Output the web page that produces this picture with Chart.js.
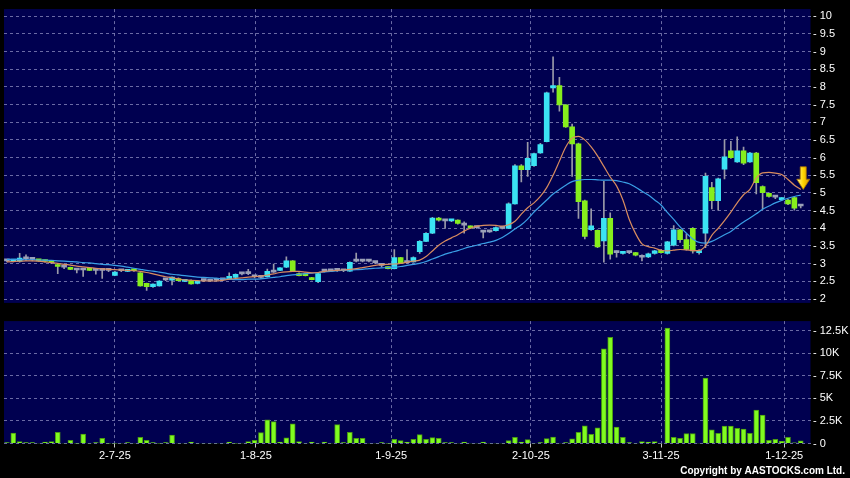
<!DOCTYPE html>
<html>
<head>
<meta charset="utf-8">
<script src="https://cdn.jsdelivr.net/npm/chart.js@4.4.1/dist/chart.umd.min.js"></script>
<style>
  html, body { margin: 0; padding: 0; background: #000; }
  #wrap { position: relative; width: 850px; height: 478px; overflow: hidden; background: #000; }
  #priceChart { position: absolute; left: 0; top: 0; }
  #volChart { position: absolute; left: 0; top: 312px; }
</style>
</head>
<body>
<div id="wrap">
  <canvas id="priceChart" width="850" height="312"></canvas>
  <canvas id="volChart" width="850" height="166"></canvas>
</div>
<script>
// daily bars, oldest first (one entry per trading day)
const opens = [
  3.08,3.07,3.07,3.14,3.12,3.10,3.08,3.05,2.97,2.90,
  2.88,2.82,2.82,2.87,2.81,2.81,2.81,2.67,2.80,2.78,
  2.83,2.74,2.44,2.35,2.37,2.54,2.53,2.58,2.50,2.53,
  2.44,2.52,2.51,2.53,2.54,2.57,2.61,2.71,2.72,2.63,
  2.61,2.63,2.76,2.81,2.90,3.08,2.72,2.72,2.60,2.49,
  2.79,2.80,2.81,2.80,2.79,3.07,3.07,3.07,3.03,2.95,
  2.90,2.86,3.17,3.03,3.05,3.34,3.63,3.86,4.29,4.21,
  4.21,4.23,4.09,4.05,4.02,3.89,3.90,3.93,4.00,4.00,
  4.69,5.77,5.66,5.77,6.13,6.45,7.97,8.04,7.49,6.87,
  6.39,4.78,3.96,3.94,3.64,4.28,3.31,3.29,3.31,3.31,
  3.18,3.19,3.29,3.38,3.29,3.52,3.96,3.68,4.00,3.31,
  3.86,5.15,4.78,5.67,6.19,5.88,6.19,5.88,6.13,5.18,
  4.99,4.88,4.81,4.80,4.87,4.63
];
const highs = [
  3.11,3.12,3.29,3.25,3.15,3.12,3.10,3.07,2.99,2.92,
  2.90,2.84,2.83,2.88,2.82,2.83,2.84,2.78,2.82,2.82,
  2.85,2.75,2.45,2.43,2.52,2.56,2.63,2.60,2.56,2.54,
  2.52,2.55,2.54,2.55,2.56,2.74,2.71,2.73,2.84,2.65,
  2.63,2.85,2.99,2.89,3.19,3.09,2.74,2.73,2.61,2.73,
  2.82,2.82,2.84,2.82,3.05,3.30,3.09,3.09,3.05,2.98,
  2.91,3.40,3.18,3.40,3.19,3.65,3.88,4.31,4.31,4.23,
  4.24,4.24,4.18,4.07,4.04,3.91,3.92,4.04,4.02,4.72,
  5.80,5.80,6.43,6.13,6.40,7.85,8.85,8.27,7.50,6.95,
  6.41,4.80,4.55,3.96,5.33,4.44,3.36,3.35,3.34,3.32,
  3.25,3.30,3.38,3.40,3.63,4.08,3.97,3.84,4.02,3.40,
  5.56,5.30,5.42,6.50,6.46,6.59,6.30,6.15,6.15,5.20,
  5.00,4.92,4.87,4.82,4.89,4.66
];
const lows = [
  3.05,3.05,3.04,3.09,3.08,3.06,3.04,3.00,2.72,2.86,
  2.83,2.74,2.64,2.80,2.70,2.58,2.77,2.66,2.77,2.77,
  2.78,2.36,2.24,2.33,2.36,2.52,2.40,2.51,2.49,2.42,
  2.43,2.49,2.49,2.51,2.52,2.56,2.60,2.68,2.69,2.60,
  2.58,2.62,2.75,2.80,2.89,2.77,2.65,2.65,2.54,2.46,
  2.76,2.78,2.78,2.77,2.78,3.05,3.05,3.05,3.00,2.91,
  2.85,2.85,3.00,3.01,3.04,3.29,3.62,3.85,4.20,4.00,
  4.19,4.12,3.86,4.00,4.00,3.73,3.88,3.92,3.98,3.99,
  4.68,5.31,5.47,5.75,6.12,6.44,7.85,7.31,6.85,5.47,
  4.28,3.70,3.94,3.45,3.04,3.13,3.18,3.27,3.28,3.22,
  3.08,3.17,3.27,3.30,3.27,3.50,3.60,3.38,3.30,3.27,
  3.45,4.55,4.51,5.40,5.98,5.86,5.80,5.86,4.97,4.55,
  4.88,4.84,4.79,4.67,4.51,4.58
];
const closes = [
  3.08,3.10,3.16,3.14,3.12,3.08,3.06,3.03,2.92,2.90,
  2.84,2.82,2.82,2.81,2.81,2.81,2.81,2.76,2.80,2.81,
  2.80,2.37,2.35,2.42,2.51,2.54,2.62,2.52,2.55,2.43,
  2.51,2.52,2.51,2.53,2.54,2.64,2.70,2.71,2.72,2.63,
  2.61,2.78,2.76,2.88,3.08,2.78,2.66,2.66,2.55,2.72,
  2.79,2.80,2.81,2.80,3.04,3.07,3.07,3.07,3.03,2.95,
  2.86,3.17,3.01,3.03,3.17,3.63,3.86,4.29,4.23,4.21,
  4.23,4.14,4.09,4.01,4.02,3.89,3.90,4.02,4.00,4.69,
  5.77,5.66,5.98,6.11,6.37,7.83,8.04,7.49,6.87,6.39,
  4.75,3.77,4.07,3.47,4.28,3.27,3.31,3.33,3.31,3.24,
  3.18,3.28,3.36,3.31,3.62,3.96,3.68,3.40,3.36,3.36,
  5.47,4.78,5.40,6.02,6.00,6.19,5.84,6.13,5.29,5.01,
  4.90,4.88,4.85,4.69,4.57,4.63
];
const volumes = [
  100,1160,200,100,100,50,150,200,1230,50,
  360,20,1050,50,100,580,20,20,50,100,
  50,690,360,100,20,100,940,50,50,150,
  50,50,50,50,50,150,20,50,200,360,
  1200,2640,2430,150,620,2170,200,50,150,50,
  150,50,2100,100,1230,580,580,50,50,100,
  20,470,330,150,470,980,470,650,580,100,
  100,50,150,50,50,150,50,50,50,330,
  690,150,430,50,100,540,720,50,100,510,
  1230,1960,1010,1740,10500,11780,1810,690,100,50,
  200,150,200,50,12800,690,580,1090,1090,50,
  7250,1520,1120,1920,1920,1670,1600,1120,3700,3150,
  360,470,250,690,70,290
];
// moving averages
const maShort = [
  3.05,3.06,3.07,3.08,3.08,3.07,3.05,3.03,3.01,2.98,
  2.96,2.93,2.91,2.89,2.87,2.85,2.84,2.83,2.82,2.81,
  2.80,2.78,2.75,2.71,2.67,2.63,2.60,2.57,2.54,2.53,
  2.52,2.51,2.51,2.51,2.53,2.56,2.58,2.60,2.62,2.63,
  2.65,2.68,2.71,2.75,2.77,2.78,2.78,2.76,2.74,2.75,
  2.78,2.80,2.81,2.82,2.84,2.86,2.89,2.92,2.95,2.97,
  2.98,2.99,3.01,3.04,3.07,3.10,3.20,3.36,3.52,3.64,
  3.73,3.82,3.92,4.00,4.06,4.08,4.09,4.08,4.06,4.10,
  4.20,4.40,4.58,4.72,4.90,5.15,5.50,5.90,6.30,6.55,
  6.60,6.50,6.30,6.05,5.75,5.45,5.20,4.80,4.25,3.85,
  3.56,3.48,3.44,3.38,3.36,3.38,3.40,3.39,3.37,3.37,
  3.50,3.80,4.00,4.22,4.46,4.72,4.95,5.10,5.42,5.57,
  5.58,5.56,5.52,5.38,5.22,5.10
];
const maLong = [
  3.12,3.12,3.12,3.11,3.11,3.10,3.10,3.09,3.08,3.07,
  3.06,3.05,3.03,3.02,3.00,2.98,2.97,2.95,2.93,2.90,
  2.87,2.84,2.81,2.79,2.76,2.73,2.70,2.68,2.66,2.64,
  2.62,2.61,2.60,2.59,2.57,2.56,2.55,2.55,2.56,2.56,
  2.57,2.59,2.61,2.63,2.66,2.68,2.70,2.72,2.73,2.75,
  2.77,2.78,2.80,2.81,2.82,2.83,2.84,2.86,2.87,2.88,
  2.89,2.90,2.92,2.95,2.98,3.01,3.06,3.13,3.20,3.27,
  3.32,3.37,3.43,3.48,3.52,3.57,3.61,3.66,3.74,3.85,
  3.98,4.10,4.26,4.46,4.63,4.80,4.97,5.10,5.22,5.32,
  5.36,5.38,5.38,5.37,5.36,5.36,5.35,5.31,5.26,5.16,
  5.05,4.94,4.80,4.66,4.45,4.25,4.04,3.86,3.70,3.60,
  3.58,3.63,3.72,3.82,3.91,4.05,4.18,4.29,4.41,4.54,
  4.63,4.72,4.79,4.85,4.90,4.94
];

// date ticks (position in bars) and their labels
const tickPos = [17, 39.2, 60.5, 82.5, 103, 122.4];
const tickLabels = ['2-7-25', '1-8-25', '1-9-25', '2-10-25', '3-11-25', '1-12-25'];
const priceTicks = [2,2.5,3,3.5,4,4.5,5,5.5,6,6.5,7,7.5,8,8.5,9,9.5,10];
const volTicks = [0, 2500, 5000, 7500, 10000, 12500];

// down arrow marker next to the last bar
const arrowX = 125.4;
const arrowTop = 5.74;
const arrowTip = 5.10;

const xMin = -0.465;
const xMax = 126.54;

const NAVY = '#000050';
const GRID = 'rgba(125,125,180,0.85)';
const CYAN = '#3be3f3';
const LIME = '#86ee1c';
const DOJI = '#9aa0b8';
const WICK = '#9a9aa8';
const FONT = { family: "'Liberation Sans', Arial, sans-serif", size: 11 };

const pts = (arr) => arr.map((v, i) => ({ x: i, y: v }));
const candleColor = (ctx) => {
  const i = ctx.dataIndex;
  if (closes[i] > opens[i]) return CYAN;
  if (closes[i] < opens[i]) return LIME;
  return DOJI;
};

// navy plot background
const navyPlugin = {
  id: 'navy',
  beforeDraw(chart) {
    const { ctx, chartArea: a } = chart;
    ctx.save();
    ctx.fillStyle = '#000';
    ctx.fillRect(0, 0, chart.width, chart.height);
    ctx.fillStyle = NAVY;
    ctx.fillRect(a.left, a.top, a.right - a.left, a.bottom - a.top);
    ctx.restore();
  }
};

const arrowPlugin = {
  id: 'arrow',
  afterDatasetsDraw(chart) {
    const { ctx, scales } = chart;
    const cx = scales.x.getPixelForValue(arrowX);
    const top = scales.y.getPixelForValue(arrowTop);
    const tip = scales.y.getPixelForValue(arrowTip);
    const neck = top + (tip - top) * 0.55;
    ctx.save();
    const g = ctx.createLinearGradient(cx - 6, 0, cx + 6, 0);
    g.addColorStop(0, '#fff38a');
    g.addColorStop(0.5, '#ffd400');
    g.addColorStop(1, '#d89800');
    ctx.fillStyle = g;
    ctx.strokeStyle = '#a87000';
    ctx.lineWidth = 0.8;
    ctx.beginPath();
    ctx.moveTo(cx - 3, top);
    ctx.lineTo(cx + 3, top);
    ctx.lineTo(cx + 3, neck);
    ctx.lineTo(cx + 6.5, neck);
    ctx.lineTo(cx, tip);
    ctx.lineTo(cx - 6.5, neck);
    ctx.lineTo(cx - 3, neck);
    ctx.closePath();
    ctx.fill();
    ctx.stroke();
    ctx.restore();
  }
};

const copyrightPlugin = {
  id: 'copyright',
  afterDraw(chart) {
    const ctx = chart.ctx;
    ctx.save();
    ctx.font = "bold 10px 'Liberation Sans', Arial, sans-serif";
    ctx.fillStyle = '#ffffff';
    ctx.textAlign = 'right';
    ctx.textBaseline = 'middle';
    ctx.fillText('Copyright by AASTOCKS.com Ltd.', 845, 159.5);
    ctx.restore();
  }
};

function xAxis(showLabels) {
  return {
    type: 'linear',
    min: xMin,
    max: xMax,
    offset: false,
    afterBuildTicks: (s) => { s.ticks = tickPos.map(v => ({ value: v })); },
    afterFit: (s) => { s.height = showLabels ? 34.5 : 0; },
    ticks: {
      display: showLabels,
      autoSkip: false,
      maxRotation: 0,
      color: '#ffffff',
      font: FONT,
      padding: 2,
      callback: (v, i) => tickLabels[i]
    },
    grid: {
      color: GRID,
      offset: false,
      drawTicks: showLabels,
      tickLength: 4,
      tickColor: '#c8c8c8',
      tickBorderDash: []
    },
    border: { display: false, dash: [3, 3] }
  };
}

new Chart(document.getElementById('priceChart'), {
  type: 'bar',
  data: {
    datasets: [
      {
        type: 'line',
        data: pts(maShort),
        borderColor: '#d98c5f',
        borderWidth: 1.2,
        pointRadius: 0,
        cubicInterpolationMode: 'monotone',
        order: 1
      },
      {
        type: 'line',
        data: pts(maLong),
        borderColor: '#3a9fe6',
        borderWidth: 1.2,
        pointRadius: 0,
        cubicInterpolationMode: 'monotone',
        order: 2
      },
      {
        data: opens.map((o, i) => ({ x: i, y: [o, closes[i]] })),
        backgroundColor: candleColor,
        barThickness: 5,
        minBarLength: 2,
        grouped: false,
        order: 3
      },
      {
        data: lows.map((l, i) => ({ x: i, y: [l, highs[i]] })),
        backgroundColor: WICK,
        barThickness: 1,
        grouped: false,
        order: 4
      }
    ]
  },
  options: {
    responsive: false,
    animation: false,
    layout: { padding: { left: 4, top: 5, bottom: 5.3, right: 0 } },
    plugins: { legend: { display: false }, tooltip: { enabled: false } },
    scales: {
      x: xAxis(false),
      y: {
        position: 'right',
        min: 1.89,
        max: 10.2,
        afterBuildTicks: (s) => { s.ticks = priceTicks.map(v => ({ value: v })); },
        afterFit: (s) => { s.width = 39.5; },
        ticks: { color: '#ffffff', font: FONT, padding: 2.5, callback: v => '- ' + v },
        grid: { color: GRID, drawTicks: false },
        border: { display: false, dash: [3, 3] }
      }
    }
  },
  plugins: [navyPlugin, arrowPlugin]
});

new Chart(document.getElementById('volChart'), {
  type: 'bar',
  data: {
    datasets: [{
      data: volumes.map((v, i) => ({ x: i, y: v })),
      backgroundColor: '#80fb20',
      borderColor: '#4a9a12',
      borderWidth: 1,
      barThickness: 5
    }]
  },
  options: {
    responsive: false,
    animation: false,
    layout: { padding: { left: 4, top: 6.3, bottom: 0, right: 0 } },
    plugins: { legend: { display: false }, tooltip: { enabled: false } },
    scales: {
      x: xAxis(true),
      y: {
        position: 'right',
        min: 0,
        max: 13585,
        afterBuildTicks: (s) => { s.ticks = volTicks.map(v => ({ value: v })); },
        afterFit: (s) => { s.width = 39.5; },
        ticks: {
          color: '#ffffff',
          font: FONT,
          padding: 2.5,
          callback: v => '- ' + (v === 0 ? '0' : (v / 1000) + 'K')
        },
        grid: { color: GRID, drawTicks: false },
        border: { display: false, dash: [3, 3] }
      }
    }
  },
  plugins: [navyPlugin, copyrightPlugin]
});
</script>
</body>
</html>
